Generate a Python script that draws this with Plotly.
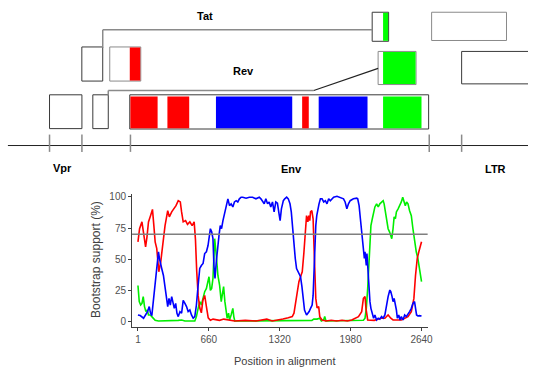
import plotly.graph_objects as go

# ---------------- bootscan data (position in alignment, bootstrap %) ----------------
red_pos = [1, 16, 38, 55, 72, 85, 99, 118, 136, 149, 161, 176, 195, 213, 232, 253, 278, 293,
           315, 336, 355, 376, 395, 407, 422, 444, 462, 484, 505, 524, 536, 548, 561, 576,
           591, 605, 622, 638, 655, 675, 700, 760, 800, 900, 1000, 1100, 1200, 1250, 1300,
           1350, 1400, 1437, 1453, 1468, 1484, 1499, 1514, 1530, 1545, 1560, 1570, 1582,
           1591, 1600, 1607, 1619, 1631, 1637, 1646, 1656, 1668, 1683, 1693, 1714, 1750,
           1800, 1850, 1900, 1950, 1991, 2053, 2083, 2099, 2114, 2123, 2139, 2200, 2260,
           2299, 2329, 2354, 2375, 2452, 2483, 2514, 2545, 2569, 2584, 2600, 2615, 2637, 2640]
red_val = [64, 74.5, 80, 70, 60, 68, 80, 85, 90, 77, 64, 58.5, 40, 48, 61, 77, 89, 84,
           88, 90.5, 93, 97, 96, 88, 80, 81, 78, 80, 77, 80, 66, 40, 21, 11,
           7, 17, 21, 12, 3, 1, 2, 1, 2, 0.5, 1, 0.5, 2, 0.5, 1,
           2, 3, 4, 6.7, 16, 26, 32, 36, 40, 55, 77, 85, 80,
           85, 81, 88, 89, 82.5, 66.5, 40, 18.6, 11, 12, 4, 1.3, 0.5,
           1, 0.5, 1, 0.5, 1.3, 4, 8, 18.6, 20, 10.6, 1.3, 1, 2.7,
           2.7, 5.3, 2.7, 1.3, 1.3, 2.7, 4, 8, 18.6, 37, 50.6, 56, 62.6, 64]

blue_pos = [1, 22, 53, 75, 90, 106, 118, 130, 146, 161, 176, 192, 201, 213, 222, 238, 253,
            268, 278, 290, 302, 315, 327, 339, 352, 364, 376, 392, 407, 422, 438, 453, 468,
            484, 499, 515, 530, 545, 561, 576, 591, 607, 622, 638, 653, 662, 675, 687, 699,
            708, 718, 730, 742, 755, 767, 779, 792, 810, 822, 838, 853, 868, 884, 899, 915,
            930, 945, 961, 976, 1007, 1038, 1068, 1099, 1130, 1145, 1160, 1176, 1191, 1207,
            1222, 1237, 1253, 1268, 1284, 1299, 1314, 1324, 1336, 1354, 1367, 1385, 1400,
            1416, 1428, 1440, 1453, 1465, 1477, 1490, 1502, 1514, 1527, 1539, 1551, 1570,
            1582, 1594, 1607, 1622, 1631, 1637, 1646, 1656, 1665, 1674, 1686, 1699, 1714,
            1730, 1745, 1760, 1776, 1791, 1822, 1853, 1883, 1914, 1929, 1945, 1960, 1976,
            2006, 2037, 2046, 2059, 2071, 2083, 2096, 2108, 2114, 2126, 2132, 2139, 2145,
            2151, 2160, 2169, 2182, 2194, 2206, 2222, 2237, 2252, 2268, 2283, 2299, 2314,
            2329, 2345, 2354, 2366, 2375, 2385, 2397, 2406, 2415, 2428, 2440, 2452, 2468,
            2483, 2498, 2514, 2529, 2545, 2560, 2575, 2584, 2594, 2606, 2621, 2640]
blue_val = [5.3, 4.8, 2.7, 5.9, 8, 12, 6.7, 4.8, 18.6, 32, 42.6, 56, 50.6, 44, 42.6, 37, 26.6,
            18.6, 12, 18.6, 13.3, 20, 16, 10.6, 14.6, 6.7, 4, 8, 6.7, 17, 14.6, 12, 8,
            9.3, 5.3, 2.7, 4, 13.3, 29, 42.6, 45, 46.6, 54.6, 56, 61, 66.5, 74.5, 72, 66.5,
            45, 34.6, 48, 61, 69, 77, 74.5, 81, 88, 94.5, 98.5, 93, 94.5, 92, 96, 97,
            96, 98.5, 99.8, 99.8, 99, 99.8, 99.8, 98.5, 99.8, 98.5, 97, 94.5, 98.5, 94.5,
            96, 92, 96, 88, 96, 95, 86.5, 81, 90.5, 97, 98.5, 99.8, 98.5,
            94.5, 88, 74.5, 64, 50.6, 42.6, 40, 38.6, 36, 28, 18.6, 9.3, 5.3,
            6.7, 8, 10.6, 13.3, 21, 37, 58.6, 77, 85, 90.5, 94.5, 98.5, 98.5,
            96, 97, 94.5, 98.5, 97, 99.8, 100.5, 99.8, 98.5, 96, 90.5, 94.5, 97,
            98.5, 99, 98.5, 93, 82.5, 72, 61, 50.6, 56, 45, 54.6, 44, 34.6,
            26.6, 16, 10.6, 6.7, 2.7, 5.3, 1.3, 2.7, 2, 4, 2.7, 5.3, 13.3,
            20, 25.3, 24, 20, 16, 18.6, 14.6, 9.3, 2.7, 5.3, 1.3, 4, 1.3,
            5.3, 4, 6.7, 8, 10.6, 14.6, 16, 12, 5.3, 4.5, 4.8, 4.5]

green_pos = [1, 13, 26, 38, 50, 62, 75, 87, 99, 115, 130, 146, 161, 192, 300, 376, 407, 438,
             530, 545, 561, 576, 591, 607, 622, 638, 653, 662, 675, 687, 699, 715, 730, 745,
             761, 776, 785, 798, 810, 822, 831, 844, 853, 868, 884, 893, 902, 1000, 1100,
             1200, 1300, 1400, 1500, 1620, 1637, 1668, 1692, 1708, 1729, 1739, 1751, 1850,
             1991, 2053, 2099, 2114, 2126, 2139, 2151, 2160, 2169, 2182, 2194, 2206, 2222,
             2237, 2252, 2268, 2283, 2292, 2305, 2317, 2329, 2342, 2354, 2363, 2375, 2385,
             2397, 2406, 2422, 2437, 2452, 2465, 2477, 2489, 2501, 2514, 2529, 2545, 2560,
             2575, 2591, 2606, 2621, 2637, 2640]
green_val = [29, 16, 13.3, 14.6, 20, 12, 8, 9.3, 5.3, 5.3, 4, 2.7, 1, 0.5, 0.5, 1, 1.3, 0.5,
             0.5, 4, 10.6, 16, 13.3, 18.6, 24, 26.6, 34.6, 36, 25, 26.6, 34.6, 66.5, 53, 37,
             29, 16, 21, 28, 16, 8, 2.7, 6.7, 1.3, 5.3, 10.6, 4, 0.5, 0.5, 0.5,
             1, 0.5, 0.5, 0.5, 1, 2, 2, 2.7, 0.5, 1.3, 4, 0.5, 0.5,
             0.5, 0.5, 1, 2.7, 10.6, 26.6, 48, 66.5, 77, 82.5, 88, 92, 94.5,
             92, 94.5, 96, 97, 94.5, 88, 82.5, 74.5, 72, 69, 66.5, 74.5, 84,
             82.5, 88, 90.5, 93, 96, 99.8, 97, 93, 96, 94.5, 89, 85, 74.5,
             64, 56, 50.6, 42.6, 34.6, 32]

threshold = 70
x_ticks = [1, 660, 1320, 1980, 2640]
y_ticks = [0, 25, 50, 75, 100]

# ---------------- genome map (drawn in a pixel-like schematic space) ----------------
RED, BLUE, GREEN = "#ff0000", "#0000ff", "#00ff00"
DARK, GREY = "#3a3a3a", "#8a8a8a"

map_boxes = [  # x0, y0, x1, y1, outline
    (50.0, 93.3, 82.7, 127.3, DARK),      # Vpr
    (93.7, 93.3, 109.3, 127.3, DARK),     # Tat/Rev first exon region
    (131.0, 93.3, 432.7, 127.7, DARK),    # Env
    (82.6, 45.2, 103.7, 79.5, DARK),      # Tat exon 1
    (110.8, 45.2, 142.1, 79.5, GREY),     # Rev exon 1
    (375.7, 10.3, 392.3, 39.5, DARK),     # Tat exon 2
    (381.7, 49.7, 420.0, 83.0, GREY),     # Rev exon 2
    (435.7, 10.3, 511.3, 38.7, GREY),
    (466.0, 49.7, 545.0, 82.3, DARK),
]
map_fills = [  # x0, y0, x1, y1, colour
    (131.6, 95.0, 159.1, 127.0, RED),
    (169.0, 95.0, 191.0, 127.0, RED),
    (218.0, 95.0, 295.0, 127.0, BLUE),
    (305.0, 95.0, 311.7, 127.0, RED),
    (321.7, 95.0, 371.0, 127.0, BLUE),
    (386.7, 95.0, 425.5, 127.0, GREEN),
    (131.0, 45.7, 141.6, 79.0, RED),
    (386.7, 10.8, 391.8, 39.0, GREEN),
    (386.7, 50.2, 419.5, 82.5, GREEN),
]
map_lines = [  # x0, y0, x1, y1, colour, width
    (103.7, 28.0, 375.7, 28.0, GREY, 1.5),
    (103.7, 28.0, 103.7, 46.0, GREY, 1.5),
    (109.3, 89.0, 316.7, 89.0, GREY, 1.5),
    (109.3, 89.0, 109.3, 94.0, GREY, 1.5),
    (316.7, 89.0, 381.7, 66.7, "#222222", 1.2),
    (8.0, 144.3, 533.0, 144.3, "#222222", 1.0),
]
map_ticks = [50.0, 82.7, 131.7, 433.3, 466.0]
map_labels = [("Tat", 207.4, 14.3), ("Rev", 245.4, 69.0), ("Vpr", 62.7, 167.3),
              ("Env", 294.4, 168.0), ("LTR", 500.4, 168.0)]

FONT = "Arial, Liberation Sans, sans-serif"

fig = go.Figure()
for pos, val, col in [(green_pos, green_val, "#00ee00"),
                      (red_pos, red_val, RED),
                      (blue_pos, blue_val, BLUE)]:
    fig.add_trace(go.Scatter(x=pos, y=val, mode="lines", xaxis="x", yaxis="y",
                             line=dict(color=col, width=1.6), hoverinfo="skip",
                             showlegend=False))

shapes = []
shapes.append(dict(type="line", xref="x domain", yref="y", x0=0, x1=1,
                   y0=threshold, y1=threshold, line=dict(color="#7f7f7f", width=1.5)))
for x0, y0, x1, y1, c in map_boxes:
    shapes.append(dict(type="rect", xref="x2", yref="y2", x0=x0, y0=y0, x1=x1, y1=y1,
                       line=dict(color=c, width=1), fillcolor="white"))
for x0, y0, x1, y1, c in map_fills:
    shapes.append(dict(type="rect", xref="x2", yref="y2", x0=x0, y0=y0, x1=x1, y1=y1,
                       line=dict(width=0), fillcolor=c))
for x0, y0, x1, y1, c, w in map_lines:
    shapes.append(dict(type="line", xref="x2", yref="y2", x0=x0, y0=y0, x1=x1, y1=y1,
                       line=dict(color=c, width=w)))
for tx in map_ticks:
    shapes.append(dict(type="line", xref="x2", yref="y2", x0=tx, y0=133.3, x1=tx, y1=150.7,
                       line=dict(color=GREY, width=1.5)))

annotations = []
for text, ax, ay in map_labels:
    annotations.append(dict(text="<b>%s</b>" % text, x=ax, y=ay, xref="x2", yref="y2",
                            showarrow=False, font=dict(family=FONT, size=11, color="black"),
                            xanchor="center", yanchor="middle"))
annotations.append(dict(text="Bootstrap support (%)", x=96.7, y=258.5, xref="x2", yref="y2",
                        textangle=-90, showarrow=False, xanchor="center", yanchor="middle",
                        font=dict(family=FONT, size=12, color="#404040")))
annotations.append(dict(text="Position in alignment", x=287.5, y=360.5, xref="x2", yref="y2",
                        showarrow=False, xanchor="center", yanchor="middle",
                        font=dict(family=FONT, size=11, color="#404040")))

W, H = 533, 371
axis_common = dict(showgrid=False, zeroline=False, showline=True, linecolor="#404040",
                   linewidth=1, ticks="outside", ticklen=3, tickcolor="#404040",
                   tickfont=dict(family=FONT, size=10, color="#505050"))
fig.update_layout(
    width=W, height=H, margin=dict(l=0, r=0, t=0, b=0),
    paper_bgcolor="white", plot_bgcolor="rgba(0,0,0,0)",
    xaxis=dict(domain=[133.3 / W, 431.7 / W], range=[-54, 2697], tickvals=x_ticks,
               anchor="y", **axis_common),
    yaxis=dict(domain=[1 - 326.7 / H, 1 - 193.0 / H], range=[-4.3, 102.4], tickvals=y_ticks,
               anchor="x", **axis_common),
    xaxis2=dict(domain=[0, 1], range=[0, W], visible=False, anchor="y2"),
    yaxis2=dict(domain=[0, 1], range=[H, 0], visible=False, anchor="x2"),
    shapes=shapes, annotations=annotations, showlegend=False,
)

fig.write_html("out.html")
